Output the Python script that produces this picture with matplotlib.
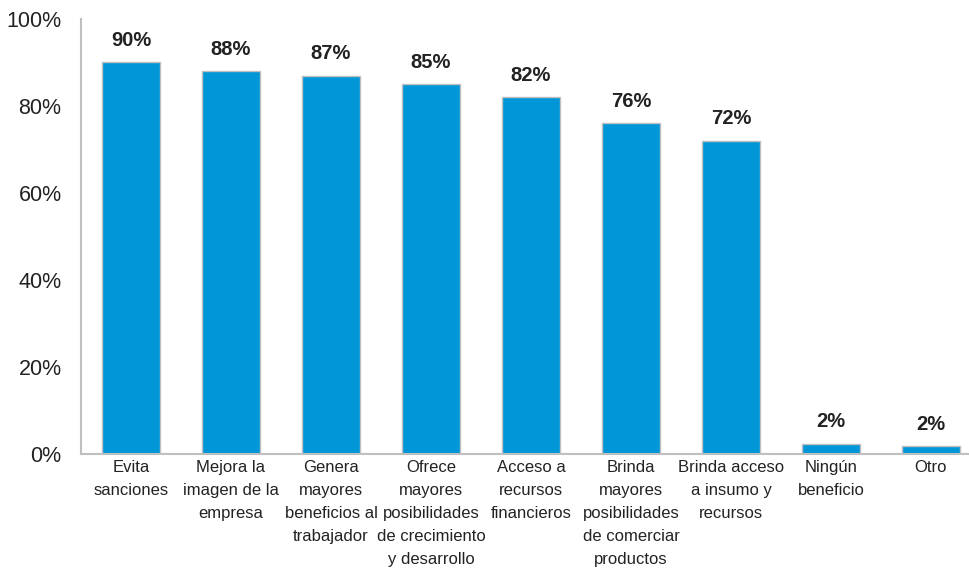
import matplotlib.pyplot as plt

plt.rcParams['font.family'] = ['Liberation Sans', 'DejaVu Sans']

categories = ['Evita\nsanciones', 'Mejora la\nimagen de la\nempresa',
              'Genera\nmayores\nbeneficios al\ntrabajador',
              'Ofrece\nmayores\nposibilidades\nde crecimiento\ny desarrollo',
              'Acceso a\nrecursos\nfinancieros',
              'Brinda\nmayores\nposibilidades\nde comerciar\nproductos',
              'Brinda acceso\na insumo y\nrecursos', 'Ningún\nbeneficio', 'Otro']
values = [90, 88, 87, 85, 82, 76, 72, 2.4, 1.8]
labels = ['90%', '88%', '87%', '85%', '82%', '76%', '72%', '2%', '2%']
yticks = [0, 20, 40, 60, 80, 100]

fig = plt.figure(figsize=(9.69, 5.73), dpi=100)
ax = fig.add_axes([81 / 969, 1 - 454 / 573, 888 / 969, 435 / 573])

x = list(range(len(categories)))
ax.bar(x, values, width=0.58, color='#0096D8', edgecolor='#BFBFBF', linewidth=1)
for xi, v, lab in zip(x, values, labels):
    ax.annotate(lab, (xi, v), xytext=(0, 9), textcoords='offset points',
                ha='center', va='bottom', fontsize=14.5, fontweight='bold',
                color='#222222')

ax.set_xlim(-0.5, 8.38)
ax.set_ylim(0, 100)
ax.set_yticks(yticks)
ax.set_yticklabels([f'{t}%' for t in yticks], fontsize=15.5, color='#222222')
ax.set_xticks(x)
ax.set_xticklabels(categories, fontsize=12, color='#222222', linespacing=1.68,
                   va='top')
ax.tick_params(axis='both', length=0)
ax.tick_params(axis='y', pad=14)
ax.tick_params(axis='x', pad=4)
for s in ['top', 'right']:
    ax.spines[s].set_visible(False)
for s in ['left', 'bottom']:
    ax.spines[s].set_color('#BFBFBF')
    ax.spines[s].set_linewidth(1.5)

fig.savefig('out.png', dpi=100)
